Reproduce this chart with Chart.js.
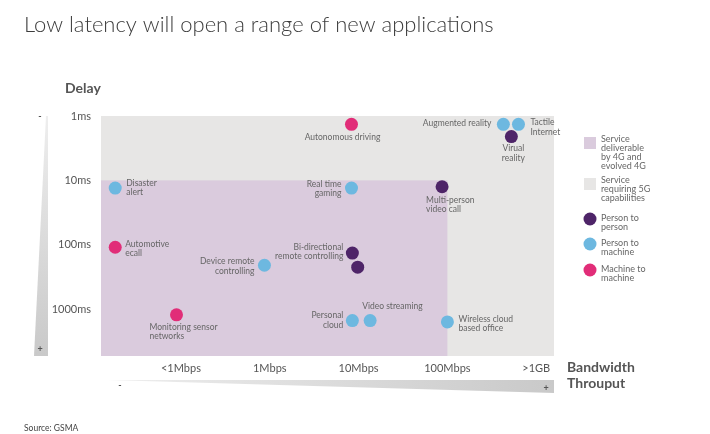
<!DOCTYPE html>
<html>
<head>
<meta charset="utf-8">
<script src="https://cdn.jsdelivr.net/npm/chart.js@4.4.0/dist/chart.umd.min.js"></script>
<style>
html, body { margin: 0; padding: 0; background: #fff; }
#wrap { position: relative; width: 710px; height: 434px; }
</style>
</head>
<body>
<div id="wrap"><canvas id="chart" width="710" height="434"></canvas></div>
<script>
// tick labels
var xTicks = ["<1Mbps", "1Mbps", "10Mbps", "100Mbps", ">1GB"];
var yTicks = ["1ms", "10ms", "100ms", "1000ms"];

// applications (bandwidth / delay in tick steps)
var apps = ["Autonomous driving", "Augmented reality", "Tactile\nInternet", "Virual\nreality",
    "Disaster\nalert", "Real time\ngaming", "Multi-person\nvideo call", "Automotive\necall",
    "Bi-directional\nremote controlling", "", "Device remote\ncontrolling",
    "Monitoring sensor\nnetworks", "Personal\ncloud", "Video streaming", "Wireless cloud\nbased office"];
var bandwidth = [2.92, 4.63, 4.80, 4.72, 0.26, 2.92, 3.94, 0.26, 2.93, 2.99, 1.94, 0.95, 2.93, 3.13, 4.00];
var delay = [0.13, 0.13, 0.13, 0.32, 1.12, 1.12, 1.10, 2.04, 2.13, 2.35, 2.32, 3.09, 3.18, 3.18, 3.20];
var groups = [2, 1, 1, 0, 1, 1, 0, 2, 0, 0, 1, 2, 1, 1, 1];
var groupNames = ["Person to\nperson", "Person to\nmachine", "Machine to\nmachine"];

// 4G region ends at 100Mbps and starts at 10ms
var region4G = { xMax: 4, yMin: 1 };

var groupColors = ["#4e2468", "#6db8e0", "#e12d78"];
var purpleBg = "#dacbdd";
var greyBg = "#e7e6e5";

// label placement per app: [align, dx, dy]
var labelPos = [
    ["center", -9, 13], ["right", -12, -1], ["left", 12, -2], ["center", 2, 12],
    ["left", 11, -5], ["right", -10, -4], ["left", -16, 13], ["left", 10, -3],
    ["right", -9, -6], null, ["right", -10, -4],
    ["left", -27, 12], ["right", -9, -5], ["left", -8, -14], ["left", 11, -3]
];

var datasets = groupNames.map(function (name, g) {
    var pts = [];
    for (var i = 0; i < apps.length; i++) {
        if (groups[i] === g) pts.push({ x: bandwidth[i], y: delay[i], idx: i });
    }
    return {
        label: name,
        data: pts,
        backgroundColor: groupColors[g],
        pointRadius: 6.5,
        borderWidth: 0,
        pointHoverRadius: 6.5
    };
});

var regionsPlugin = {
    id: "regions",
    beforeDatasetsDraw: function (chart) {
        var ctx = chart.ctx, a = chart.chartArea;
        var xs = chart.scales.x, ys = chart.scales.y;
        ctx.save();
        ctx.fillStyle = greyBg;
        ctx.fillRect(a.left, a.top, a.right - a.left, a.bottom - a.top);
        var x1 = xs.getPixelForValue(region4G.xMax);
        var y0 = ys.getPixelForValue(region4G.yMin);
        ctx.fillStyle = purpleBg;
        ctx.fillRect(a.left, y0, x1 - a.left, a.bottom - y0);
        ctx.restore();
    }
};

var labelsPlugin = {
    id: "pointLabels",
    afterDatasetsDraw: function (chart) {
        var ctx = chart.ctx;
        ctx.save();
        ctx.font = "8.5px Lato";
        ctx.fillStyle = "#666";
        ctx.textBaseline = "middle";
        chart.data.datasets.forEach(function (ds, di) {
            var meta = chart.getDatasetMeta(di);
            meta.data.forEach(function (el, j) {
                var idx = ds.data[j].idx;
                var p = labelPos[idx];
                if (!p || !apps[idx]) return;
                ctx.textAlign = p[0];
                apps[idx].split("\n").forEach(function (line, k) {
                    ctx.fillText(line, el.x + p[1], el.y + p[2] + k * 9.5);
                });
            });
        });
        ctx.restore();
    }
};

var decorPlugin = {
    id: "decor",
    afterDraw: function (chart) {
        var ctx = chart.ctx, a = chart.chartArea;
        ctx.save();
        // title
        ctx.fillStyle = "#3c3c3c";
        ctx.textBaseline = "middle";
        ctx.textAlign = "left";
        ctx.font = "300 22px Lato";
        ctx.fillText("Low latency will open a range of new applications", 24, 25);
        // axis titles
        ctx.fillStyle = "#555";
        ctx.font = "bold 14px Lato";
        ctx.fillText("Delay", 65, 88);
        ctx.fillText("Bandwidth", 567, 367);
        ctx.fillText("Throuput", 567, 383);
        // source
        ctx.font = "8.5px Lato";
        ctx.fillStyle = "#444";
        ctx.fillText("Source: GSMA", 24, 428);

        // left wedge
        var g = ctx.createLinearGradient(0, a.top, 0, a.bottom);
        g.addColorStop(0, "#eeeeee");
        g.addColorStop(1, "#c9c9c9");
        ctx.fillStyle = g;
        ctx.beginPath();
        ctx.moveTo(46, a.top);
        ctx.lineTo(48, a.top);
        ctx.lineTo(48, a.bottom);
        ctx.lineTo(34, a.bottom);
        ctx.closePath();
        ctx.fill();
        // bottom wedge
        var g2 = ctx.createLinearGradient(108, 0, a.right, 0);
        g2.addColorStop(0, "#eeeeee");
        g2.addColorStop(1, "#c9c9c9");
        ctx.fillStyle = g2;
        ctx.beginPath();
        ctx.moveTo(108, 380);
        ctx.lineTo(a.right, 380);
        ctx.lineTo(a.right, 393);
        ctx.closePath();
        ctx.fill();
        ctx.fillStyle = "#555";
        ctx.font = "bold 9px Lato";
        ctx.textAlign = "center";
        ctx.fillText("-", 40, 116);
        ctx.fillText("+", 40, 349);
        ctx.fillText("-", 120, 385);
        ctx.fillText("+", 546, 388);

        // legend
        ctx.textAlign = "left";
        ctx.font = "9px Lato";
        var items = [
            { sq: purpleBg, y: 137, text: "Service\ndeliverable\nby 4G and\nevolved 4G" },
            { sq: greyBg, y: 178, text: "Service\nrequiring 5G\ncapabilities" }
        ];
        items.forEach(function (it) {
            ctx.fillStyle = it.sq;
            ctx.fillRect(584, it.y, 12, 12);
            ctx.fillStyle = "#666";
            it.text.split("\n").forEach(function (line, k) {
                ctx.fillText(line, 601, it.y + 2 + k * 9);
            });
        });
        var cy = [219, 244, 270];
        groupNames.forEach(function (name, i) {
            ctx.fillStyle = groupColors[i];
            ctx.beginPath();
            ctx.arc(590, cy[i], 6.5, 0, Math.PI * 2);
            ctx.fill();
            ctx.fillStyle = "#666";
            name.split("\n").forEach(function (line, k) {
                ctx.fillText(line, 601, cy[i] - 1 + k * 9);
            });
        });
        ctx.restore();
    }
};

new Chart(document.getElementById("chart").getContext("2d"), {
    type: "scatter",
    data: { datasets: datasets },
    options: {
        responsive: false,
        animation: false,
        events: [],
        layout: { padding: { left: 41, top: 116, right: 156, bottom: 54 } },
        plugins: { legend: { display: false }, tooltip: { enabled: false } },
        scales: {
            x: {
                type: "linear",
                min: 0.1,
                max: 5.2,
                afterBuildTicks: function (s) { s.ticks = [1, 2, 3, 4, 5].map(function (v) { return { value: v }; }); },
                afterFit: function (s) { s.height = 24; },
                grid: { display: false, drawTicks: false },
                border: { display: false },
                ticks: {
                    padding: 6,
                    color: "#555",
                    font: { family: "Lato", size: 11 },
                    maxRotation: 0,
                    callback: function (v) { return xTicks[v - 1]; }
                }
            },
            y: {
                type: "linear",
                reverse: true,
                min: 0,
                max: 3.73,
                afterBuildTicks: function (s) { s.ticks = [0, 1, 2, 3].map(function (v) { return { value: v }; }); },
                afterFit: function (s) { s.width = 60; },
                grid: { display: false, drawTicks: false },
                border: { display: false },
                ticks: {
                    padding: 10,
                    color: "#555",
                    font: { family: "Lato", size: 11 },
                    callback: function (v) { return yTicks[v]; }
                }
            }
        }
    },
    plugins: [regionsPlugin, labelsPlugin, decorPlugin]
});
</script>
</body>
</html>
